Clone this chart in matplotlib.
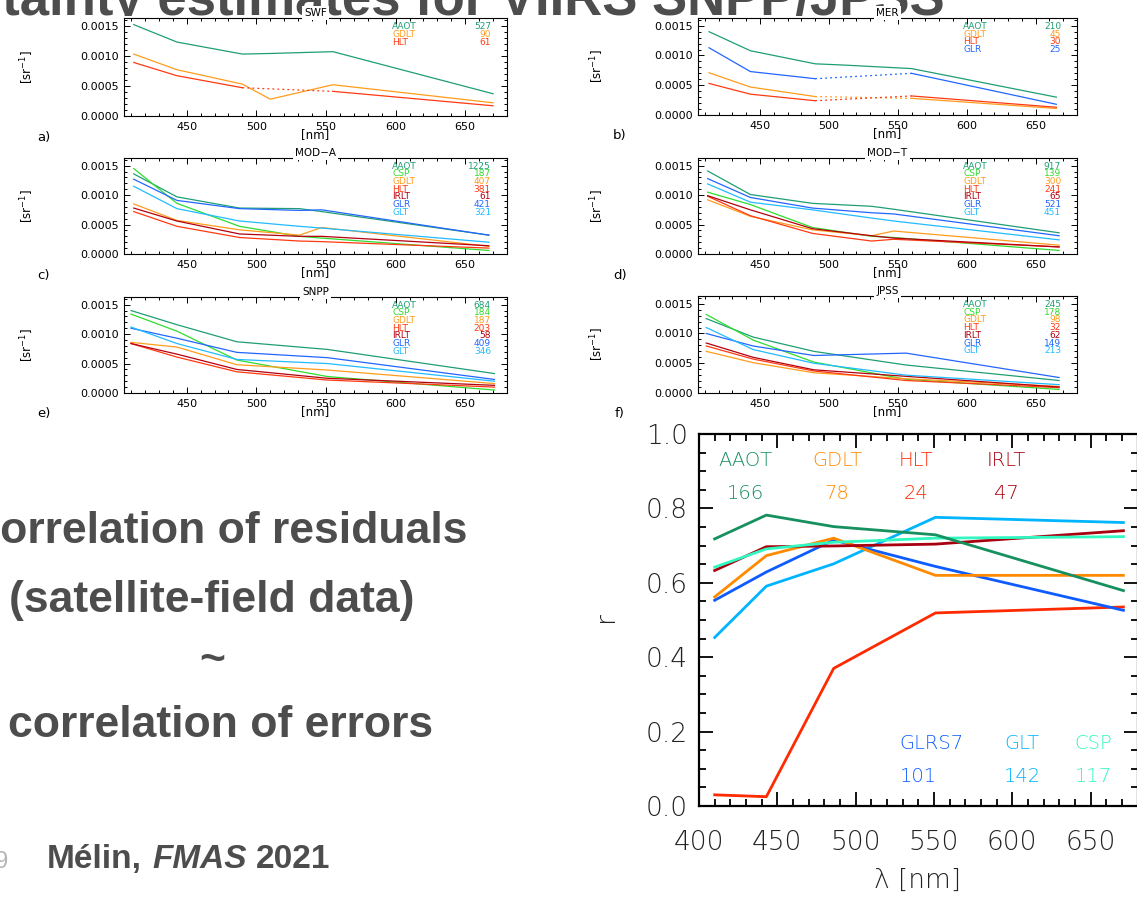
"""Uncertainty estimates for VIIRS SNPP/JPSS: per-site sigma spectra (a-f) and
correlation of satellite-field residuals between bands (right).

Writes out.png.
"""

import matplotlib

matplotlib.use("Agg")
import matplotlib.pyplot as plt  # noqa: E402
import numpy as np  # noqa: E402
from matplotlib.patches import Rectangle  # noqa: E402
from matplotlib.ticker import FormatStrFormatter, MultipleLocator  # noqa: E402

nan = np.nan
W, H = 1137, 898

# --- sensor band centres [nm]
wl_swf = [412, 443, 490, 510, 555, 670]
wl_mer = [413, 443, 490, 510, 560, 665]
wl_mod = [412, 443, 488, 531, 547, 667]
wl_snpp = [410, 443, 486, 551, 671]
wl_jpss = [411, 445, 489, 556, 667]

# --- estimated uncertainty [sr^-1] per site
swf_aaot = [0.00152, 0.00123, 0.00103, 0.00104, 0.00107, 0.00037]
swf_gdlt = [0.00103, 0.00077, 0.00053, 0.00028, 0.00052, 0.00022]
swf_hlt = [0.00089, 0.00067, 0.00047, nan, 0.00041, 0.00017]
swf_n = [527, 90, 61]

mer_aaot = [0.00140, 0.00108, 0.00086, 0.00084, 0.00078, 0.00030]
mer_gdlt = [0.00071, 0.00047, 0.00031, nan, 0.00028, 0.00011]
mer_hlt = [0.00053, 0.00035, 0.00024, nan, 0.00032, 0.00013]
mer_glr = [0.00113, 0.00073, 0.00061, nan, 0.00070, 0.00018]
mer_n = [210, 45, 30, 25]

moda_aaot = [0.00136, 0.00097, 0.00078, 0.00077, 0.00072, 0.00032]
moda_csp = [0.00145, 0.00086, 0.00047, 0.00030, 0.00027, 0.00006]
moda_gdlt = [0.00085, 0.00057, 0.00041, 0.00032, 0.00045, 0.00013]
moda_hlt = [0.00072, 0.00047, 0.00028, 0.00022, 0.00021, 0.00010]
moda_irlt = [0.00078, 0.00056, 0.00034, 0.00030, 0.00030, 0.00014]
moda_glr = [0.00127, 0.00091, 0.00077, 0.00074, 0.00075, 0.00032]
moda_glt = [0.00115, 0.00077, 0.00056, 0.00047, 0.00044, 0.00020]
moda_n = [1225, 187, 407, 381, 61, 421, 321]

modt_aaot = [0.00141, 0.00101, 0.00086, 0.00081, 0.00076, 0.00036]
modt_csp = [0.00105, 0.00084, 0.00045, 0.00030, 0.00028, 0.00006]
modt_gdlt = [0.00092, 0.00064, 0.00041, 0.00031, 0.00039, 0.00015]
modt_hlt = [0.00098, 0.00065, 0.00035, 0.00022, 0.00025, 0.00012]
modt_irlt = [0.00099, 0.00075, 0.00043, 0.00031, 0.00027, 0.00012]
modt_glr = [0.00128, 0.00096, 0.00078, 0.00070, 0.00068, 0.00031]
modt_glt = [0.00119, 0.00088, 0.00075, 0.00061, 0.00056, 0.00024]
modt_n = [917, 139, 300, 241, 65, 521, 451]

snpp_aaot = [0.00140, 0.00116, 0.00087, 0.00074, 0.00033]
snpp_csp = [0.00134, 0.00105, 0.00056, 0.00028, 0.00005]
snpp_gdlt = [0.00086, 0.00078, 0.00048, 0.00039, 0.00016]
snpp_hlt = [0.00084, 0.00061, 0.00036, 0.00022, 0.00010]
snpp_irlt = [0.00084, 0.00066, 0.00040, 0.00025, 0.00013]
snpp_glr = [0.00110, 0.00093, 0.00069, 0.00060, 0.00023]
snpp_glt = [0.00112, 0.00084, 0.00057, 0.00050, 0.00020]
snpp_n = [684, 184, 187, 203, 58, 409, 346]

jpss_aaot = [0.00125, 0.00094, 0.00070, 0.00047, 0.00021]
jpss_csp = [0.00132, 0.00089, 0.00052, 0.00023, 0.00006]
jpss_gdlt = [0.00070, 0.00051, 0.00034, 0.00024, 0.00011]
jpss_hlt = [0.00079, 0.00057, 0.00037, 0.00021, 0.00009]
jpss_irlt = [0.00084, 0.00060, 0.00039, 0.00028, 0.00010]
jpss_glr = [0.00100, 0.00079, 0.00063, 0.00067, 0.00026]
jpss_glt = [0.00110, 0.00073, 0.00050, 0.00030, 0.00014]
jpss_n = [245, 178, 98, 32, 62, 149, 213]

# --- correlation of residuals (VIIRS SNPP bands)
r_aaot = [0.718, 0.782, 0.751, 0.729, 0.579]
r_gdlt = [0.562, 0.673, 0.720, 0.620, 0.620]
r_hlt = [0.030, 0.025, 0.370, 0.519, 0.535]
r_irlt = [0.633, 0.697, 0.699, 0.704, 0.740]
r_glrs7 = [0.553, 0.629, 0.715, 0.644, 0.526]
r_glt = [0.453, 0.591, 0.651, 0.776, 0.762]
r_csp = [0.642, 0.691, 0.709, 0.720, 0.724]
r_n = [166, 78, 24, 47, 101, 142, 117]

SITES7 = ["AAOT", "CSP", "GDLT", "HLT", "IRLT", "GLR", "GLT"]
COL = {"AAOT": "#1f9e74", "CSP": "#2fdc2f", "GDLT": "#ff9c1c", "HLT": "#ff3a12",
       "IRLT": "#b3000f", "GLR": "#2266ff", "GLT": "#22bbff"}
BIG = {"AAOT": "#16905f", "GDLT": "#ff8a00", "HLT": "#ff2a00", "IRLT": "#a8000f",
       "GLRS7": "#0e5cff", "GLT": "#00b5ff", "CSP": "#30f8c0"}
GREY = "#4d4d4d"
SANS = "Liberation Sans"


def px_rect(l, t, r, b):
    return [l / W, 1 - b / H, (r - l) / W, (b - t) / H]


def fx(x):
    return x / W


def fy(y):
    return 1 - y / H


fig = plt.figure(figsize=(W / 100, H / 100), dpi=100)

# slide heading, its lower part hidden behind the white panel block
fig.text(fx(945), fy(15), "Uncertainty estimates for VIIRS SNPP/JPSS", ha="right",
         va="baseline", fontsize=38, weight="bold", family=SANS, color=GREY, zorder=-2)
cover = Rectangle((0, fy(420)), 1, fy(16) - fy(420), transform=fig.transFigure,
                  facecolor="white", edgecolor="none", zorder=-1)
fig.add_artist(cover)


def small_panel(rect, title, tag, wl, series, counts):
    ax = fig.add_axes(px_rect(*rect))
    wl = np.asarray(wl, float)
    for name, vals in series:
        y = np.asarray(vals, float)
        ax.plot(wl, y, color=COL[name], lw=0.9)
        # dotted bridge over bands without data
        ok = np.where(~np.isnan(y))[0]
        for i0, i1 in zip(ok[:-1], ok[1:]):
            if i1 - i0 > 1:
                ax.plot(wl[[i0, i1]], y[[i0, i1]], color=COL[name], lw=0.9,
                        ls=(0, (1.5, 2.5)))
    ax.set_xlim(405, 680)
    ax.set_ylim(0, 0.00163)
    ax.xaxis.set_major_locator(MultipleLocator(50))
    ax.xaxis.set_minor_locator(MultipleLocator(10))
    ax.yaxis.set_major_locator(MultipleLocator(0.0005))
    ax.yaxis.set_minor_locator(MultipleLocator(0.0001))
    ax.yaxis.set_major_formatter(FormatStrFormatter("%.4f"))
    ax.tick_params(which="both", direction="in", top=True, right=True, width=0.7,
                   labelsize=8, pad=4)
    ax.tick_params(which="major", length=4)
    ax.tick_params(which="minor", length=2)
    for s in ax.spines.values():
        s.set_linewidth(0.8)
    ax.set_title(title, fontsize=7.5, pad=1.5,
                 bbox=dict(facecolor="white", edgecolor="none", pad=1.5))
    for k, ((name, _), n) in enumerate(zip(series, counts)):
        yy = 0.915 - k * 0.08
        ax.text(0.70, yy, name, transform=ax.transAxes, color=COL[name], fontsize=6.5,
                va="center", ha="left")
        ax.text(0.958, yy, str(n), transform=ax.transAxes, color=COL[name], fontsize=6.5,
                va="center", ha="right")
    l, t, r, b = rect
    left_col = l < 300
    fig.text(fx((l + r) / 2), fy(b + 19), "[nm]", ha="center", va="center", fontsize=8.5)
    fig.text(fx(l - 97 if left_col else l - 101), fy((t + b) / 2), "[sr$^{-1}$]",
             rotation=90, ha="center", va="center", fontsize=8.5)
    fig.text(fx(l - 80 if left_col else l - 78), fy(b + 21), tag, ha="center",
             va="center", fontsize=9.5)
    return ax


small_panel((124, 18, 507, 116), "SWF", "a)", wl_swf,
            [("AAOT", swf_aaot), ("GDLT", swf_gdlt), ("HLT", swf_hlt)], swf_n)
small_panel((698, 18, 1077, 115), "MER", "b)", wl_mer,
            [("AAOT", mer_aaot), ("GDLT", mer_gdlt), ("HLT", mer_hlt), ("GLR", mer_glr)],
            mer_n)
small_panel((124, 158, 507, 254), "MOD\u2212A", "c)", wl_mod,
            list(zip(SITES7, [moda_aaot, moda_csp, moda_gdlt, moda_hlt, moda_irlt,
                              moda_glr, moda_glt])), moda_n)
small_panel((698, 158, 1077, 254), "MOD\u2212T", "d)", wl_mod,
            list(zip(SITES7, [modt_aaot, modt_csp, modt_gdlt, modt_hlt, modt_irlt,
                              modt_glr, modt_glt])), modt_n)
small_panel((124, 297, 507, 393), "SNPP", "e)", wl_snpp,
            list(zip(SITES7, [snpp_aaot, snpp_csp, snpp_gdlt, snpp_hlt, snpp_irlt,
                              snpp_glr, snpp_glt])), snpp_n)
small_panel((698, 296, 1077, 393), "JPSS", "f)", wl_jpss,
            list(zip(SITES7, [jpss_aaot, jpss_csp, jpss_gdlt, jpss_hlt, jpss_irlt,
                              jpss_glr, jpss_glt])), jpss_n)

# --- correlation panel
bx = fig.add_axes(px_rect(699, 434, 1137.5, 806))
big_names = ["AAOT", "GDLT", "HLT", "IRLT", "GLRS7", "GLT", "CSP"]
big_vals = [r_aaot, r_gdlt, r_hlt, r_irlt, r_glrs7, r_glt, r_csp]
draw_order = ["HLT", "GLT", "GLRS7", "GDLT", "IRLT", "CSP", "AAOT"]
for name in draw_order:
    bx.plot(wl_snpp, big_vals[big_names.index(name)], color=BIG[name], lw=2.0)
bx.set_xlim(400, 680)
bx.set_ylim(0, 1)
bx.xaxis.set_major_locator(MultipleLocator(50))
bx.xaxis.set_minor_locator(MultipleLocator(10))
bx.yaxis.set_major_locator(MultipleLocator(0.2))
bx.yaxis.set_minor_locator(MultipleLocator(0.05))
bx.yaxis.set_major_formatter(FormatStrFormatter("%.1f"))
bx.tick_params(which="both", direction="in", top=True, right=True, width=1.3,
               labelsize=19, labelcolor="#222222")
bx.tick_params(which="major", length=10)
bx.tick_params(which="minor", length=5)
bx.tick_params(axis="x", which="major", pad=17)
bx.tick_params(axis="y", which="major", pad=8)
for lab in bx.get_xticklabels() + bx.get_yticklabels():
    lab.set_fontweight("light")
for s in bx.spines.values():
    s.set_linewidth(1.6)

# site labels with match-up counts
top_x = [0.107, 0.315, 0.495, 0.700]
bot_x = [0.530, 0.737, 0.900]
for name, n, x in zip(big_names[:4], r_n[:4], top_x):
    bx.text(x, 0.930, name, transform=bx.transAxes, color=BIG[name], fontsize=14,
            ha="center", va="center", fontweight="light")
    bx.text(x, 0.841, str(n), transform=bx.transAxes, color=BIG[name], fontsize=14,
            ha="center", va="center", fontweight="light")
for name, n, x in zip(big_names[4:], r_n[4:], bot_x):
    bx.text(x, 0.169, name, transform=bx.transAxes, color=BIG[name], fontsize=14,
            ha="center", va="center", fontweight="light")
    bx.text(x - (0.03 if name == "GLRS7" else 0), 0.078, str(n), transform=bx.transAxes,
            color=BIG[name], fontsize=14, ha="center", va="center", fontweight="light")
fig.text(fx(606), fy(617), "r", rotation=90, ha="center", va="center", fontsize=19,
         fontweight="light", color="#222222")
fig.text(fx(917), fy(880), "\u03bb [nm]", ha="center", va="center", fontsize=19,
         fontweight="light", color="#222222")

# --- message text on the left
msg_kw = dict(ha="center", va="baseline", fontsize=32, weight="bold", family=SANS,
              color=GREY)
fig.text(fx(218), fy(543), "Correlation of residuals", **msg_kw)
fig.text(fx(212), fy(612), "(satellite-field data)", **msg_kw)
fig.text(fx(212), fy(672), "~", **msg_kw)
fig.text(fx(221), fy(737), "correlation of errors", **msg_kw)

foot_kw = dict(ha="left", va="baseline", fontsize=24, weight="bold", family=SANS,
               color=GREY)
fig.text(fx(47), fy(868), "M\u00e9lin,", **foot_kw)
fig.text(fx(152), fy(868), "FMAS", style="italic", **foot_kw)
fig.text(fx(256), fy(868), "2021", **foot_kw)
fig.text(fx(8), fy(868), "19", ha="right", va="baseline", fontsize=17, family=SANS,
         color="#b5b5b5")

fig.savefig("out.png", dpi=100)
plt.close(fig)
